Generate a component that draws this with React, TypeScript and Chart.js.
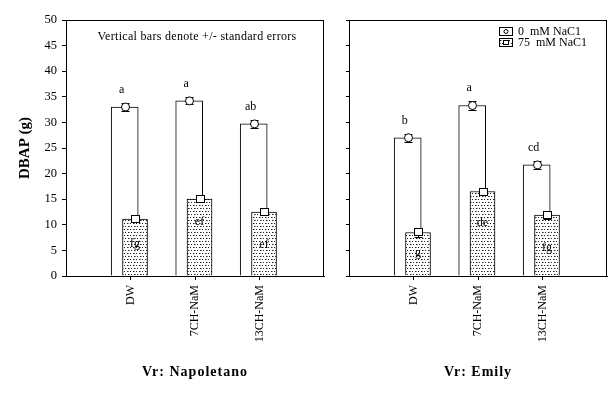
import React, { useEffect, useRef } from "react";
import { Chart, registerables } from "chart.js";
Chart.register(...registerables);

// ---- data ----
const categories = ["DW", "7CH-NaM", "13CH-NaM"];
const yTicksMax = 50;
const yTickStep = 5;

const napoletano0 = [33.0, 34.2, 29.7];
const napoletano0Err = [0.8, 0.7, 0.8];
const napoletano75 = [11.1, 15.0, 12.5];
const napoletano75Err = [0.6, 0.6, 0.6];
const napoletanoLetters0 = ["a", "a", "ab"];
const napoletanoLetters75 = ["fg", "ef", "ef"];
const napoletanoLetterAt75 = [6.2, 10.6, 6.0];

const emily0 = [27.0, 33.3, 21.7];
const emily0Err = [0.8, 0.9, 0.75];
const emily75 = [8.5, 16.5, 11.9];
const emily75Err = [0.8, 0.7, 0.8];
const emilyLetters0 = ["b", "a", "cd"];
const emilyLetters75 = ["g", "de", "fg"];
const emilyLetterAt75 = [4.6, 10.4, 5.5];

const seriesNames = ["0  mM NaC1", "75  mM NaC1"];
const yTitle = "DBAP (g)";
const note = "Vertical bars denote +/- standard errors";

const FONT = '"Liberation Serif", "Times New Roman", serif';

function makePattern(): CanvasPattern | string {
  const c = document.createElement("canvas");
  c.width = 6;
  c.height = 6;
  const g = c.getContext("2d");
  if (!g) return "#ccc";
  g.fillStyle = "#fff";
  g.fillRect(0, 0, 6, 6);
  g.fillStyle = "#222";
  g.fillRect(1, 1, 1, 1);
  g.fillRect(4, 1, 1, 1);
  g.fillRect(2, 4, 1, 1);
  g.fillRect(5, 4, 1, 1);
  g.fillStyle = "#888";
  g.fillRect(2, 1, 1, 1);
  g.fillRect(3, 4, 1, 1);
  const p = g.createPattern(c, "repeat");
  return p || "#ccc";
}

type PanelCfg = {
  v0: number[];
  e0: number[];
  v75: number[];
  e75: number[];
  l0: string[];
  l75: string[];
  l75At: number[];
  title: string;
  showYLabels: boolean;
  yAxisWidth: number;
  padRight: number;
  showNote: boolean;
  showLegend: boolean;
};

function buildChart(canvas: HTMLCanvasElement, cfg: PanelCfg) {
  const pattern = makePattern();
  const overlay = {
    id: "overlay",
    afterDatasetsDraw(chart: any) {
      const ctx = chart.ctx as CanvasRenderingContext2D;
      const { left, right, top, bottom } = chart.chartArea;
      const ys = chart.scales.y;
      ctx.save();
      ctx.strokeStyle = "#000";
      ctx.lineWidth = 1;
      // frame
      ctx.strokeRect(Math.round(left) + 0.5, Math.round(top) + 0.5, Math.round(right - left) - 1, Math.round(bottom - top));

      const m0 = chart.getDatasetMeta(0);
      const m1 = chart.getDatasetMeta(1);
      const drawErr = (x: number, v: number, e: number) => {
        const y1 = Math.round(ys.getPixelForValue(v + e)) + 0.5;
        const y2 = Math.round(ys.getPixelForValue(v - e)) + 0.5;
        const xx = Math.round(x) + 0.5;
        ctx.beginPath();
        ctx.moveTo(xx, y1);
        ctx.lineTo(xx, y2);
        ctx.moveTo(xx - 4, y1);
        ctx.lineTo(xx + 4, y1);
        ctx.moveTo(xx - 4, y2);
        ctx.lineTo(xx + 4, y2);
        ctx.stroke();
      };
      ctx.font = `12px ${FONT}`;
      ctx.fillStyle = "#000";
      ctx.textAlign = "center";
      ctx.textBaseline = "middle";
      for (let i = 0; i < cfg.v0.length; i++) {
        const b0 = m0.data[i];
        const b1 = m1.data[i];
        // white bar error + circle
        drawErr(b0.x, cfg.v0[i], cfg.e0[i]);
        const py0 = ys.getPixelForValue(cfg.v0[i]);
        ctx.beginPath();
        ctx.arc(Math.round(b0.x) + 0.5, py0, 4, 0, Math.PI * 2);
        ctx.fillStyle = "#fff";
        ctx.fill();
        ctx.stroke();
        // dotted bar error + square
        drawErr(b1.x, cfg.v75[i], cfg.e75[i]);
        const py1 = ys.getPixelForValue(cfg.v75[i]);
        ctx.fillStyle = "#fff";
        ctx.fillRect(Math.round(b1.x) - 4, Math.round(py1) - 4, 9, 8);
        ctx.strokeRect(Math.round(b1.x) - 3.5, Math.round(py1) - 3.5, 8, 7);
        // letters
        ctx.fillStyle = "#000";
        ctx.font = `12px ${FONT}`;
        const topErr = ys.getPixelForValue(cfg.v0[i] + cfg.e0[i]);
        ctx.fillText(cfg.l0[i], b0.x - 3, topErr - 13);
        ctx.fillText(cfg.l75[i], b1.x, ys.getPixelForValue(cfg.l75At[i]));
      }

      // x title
      ctx.font = `bold 14px ${FONT}`;
      (ctx as any).letterSpacing = "1px";
      ctx.textAlign = "center";
      ctx.fillText(cfg.title, (left + right) / 2, 372);
      (ctx as any).letterSpacing = "0px";

      if (cfg.showYLabels) {
        ctx.save();
        ctx.translate(25, (top + bottom) / 2);
        ctx.rotate(-Math.PI / 2);
        ctx.font = `bold 15px ${FONT}`;
        ctx.textAlign = "center";
        ctx.textBaseline = "middle";
        ctx.fillText(yTitle, 0, 0);
        ctx.restore();
      }
      if (cfg.showNote) {
        ctx.font = `12px ${FONT}`;
        (ctx as any).letterSpacing = "0.3px";
        ctx.textAlign = "center";
        ctx.fillText(note, (left + right) / 2 + 2, top + 17);
        (ctx as any).letterSpacing = "0px";
      }
      if (cfg.showLegend) {
        const ix = Math.round(right) - 108;
        const tx = Math.round(right) - 89;
        const rows = [top + 7, top + 18];
        ctx.font = `12px ${FONT}`;
        ctx.textAlign = "left";
        ctx.textBaseline = "middle";
        rows.forEach((ry, k) => {
          const ryy = Math.round(ry);
          ctx.fillStyle = k === 0 ? "#fff" : (pattern as any);
          ctx.fillRect(ix, ryy, 13, 8);
          ctx.strokeRect(ix + 0.5, ryy + 0.5, 13, 8);
          ctx.fillStyle = "#fff";
          if (k === 0) {
            ctx.beginPath();
            ctx.arc(ix + 7, ryy + 4.5, 2, 0, Math.PI * 2);
            ctx.fill();
            ctx.stroke();
          } else {
            ctx.fillRect(ix + 4, ryy + 2, 6, 5);
            ctx.strokeRect(ix + 4.5, ryy + 2.5, 5, 4);
          }
          ctx.fillStyle = "#000";
          ctx.fillText(seriesNames[k], tx, ryy + 4.5);
        });
      }
      ctx.restore();
    },
  };

  return new Chart(canvas, {
    type: "bar",
    data: {
      datasets: [
        {
          label: seriesNames[0],
          data: cfg.v0.map((v, i) => ({ x: i - 0.09, y: v })),
          backgroundColor: "#fff",
          borderColor: "#000",
          borderWidth: 1,
          barThickness: 27,
          grouped: false,
          order: 2,
        } as any,
        {
          label: seriesNames[1],
          data: cfg.v75.map((v, i) => ({ x: i + 0.07, y: v })),
          backgroundColor: pattern as any,
          borderColor: "#000",
          borderWidth: 1,
          barThickness: 25,
          grouped: false,
          order: 1,
        } as any,
      ],
    },
    options: {
      responsive: false,
      animation: false,
      events: [],
      layout: { padding: { top: 20, right: cfg.padRight, left: 0, bottom: 0 } },
      plugins: { legend: { display: false }, tooltip: { enabled: false } },
      scales: {
        x: {
          type: "linear",
          min: -1,
          max: 3,
          offset: false,
          afterBuildTicks: (scale: any) => {
            scale.ticks = categories.map((_, i) => ({ value: i }));
          },
          afterFit: (scale: any) => {
            scale.height = 121;
          },
          grid: { drawOnChartArea: false, drawTicks: true, tickLength: 4, color: "#000", offset: false },
          border: { display: true, color: "#000", width: 1 },
          ticks: {
            autoSkip: false,
            minRotation: 90,
            maxRotation: 90,
            padding: 5,
            color: "#000",
            font: { family: FONT, size: 12 },
            callback: (value: any) => categories[Number(value)] ?? "",
          },
        },
        y: {
          min: 0,
          max: yTicksMax,
          afterFit: (scale: any) => {
            scale.width = cfg.yAxisWidth;
          },
          grid: { drawOnChartArea: false, drawTicks: true, tickLength: cfg.showYLabels ? 4 : 3, color: "#000" },
          border: { display: true, color: "#000", width: 1 },
          ticks: {
            stepSize: yTickStep,
            padding: 5,
            color: cfg.showYLabels ? "#000" : "rgba(0,0,0,0)",
            font: { family: FONT, size: 12.5 },
          },
        },
      },
    } as any,
    plugins: [overlay],
  });
}

export default function App() {
  const leftRef = useRef<HTMLCanvasElement>(null);
  const rightRef = useRef<HTMLCanvasElement>(null);
  useEffect(() => {
    const c1 = buildChart(leftRef.current!, {
      v0: napoletano0,
      e0: napoletano0Err,
      v75: napoletano75,
      e75: napoletano75Err,
      l0: napoletanoLetters0,
      l75: napoletanoLetters75,
      l75At: napoletanoLetterAt75,
      title: "Vr: Napoletano",
      showYLabels: true,
      yAxisWidth: 66,
      padRight: 12,
      showNote: true,
      showLegend: false,
    });
    const c2 = buildChart(rightRef.current!, {
      v0: emily0,
      e0: emily0Err,
      v75: emily75,
      e75: emily75Err,
      l0: emilyLetters0,
      l75: emilyLetters75,
      l75At: emilyLetterAt75,
      title: "Vr: Emily",
      showYLabels: false,
      yAxisWidth: 13,
      padRight: 9,
      showNote: false,
      showLegend: true,
    });
    return () => {
      c1.destroy();
      c2.destroy();
    };
  }, []);
  return (
    <div style={{ position: "fixed", left: 0, top: 0, width: 616, height: 397, background: "#fff" }}>
      <canvas ref={leftRef} width={336} height={397} style={{ position: "absolute", left: 0, top: 0, width: 336, height: 397 }} />
      <canvas ref={rightRef} width={280} height={397} style={{ position: "absolute", left: 336, top: 0, width: 280, height: 397 }} />
    </div>
  );
}
